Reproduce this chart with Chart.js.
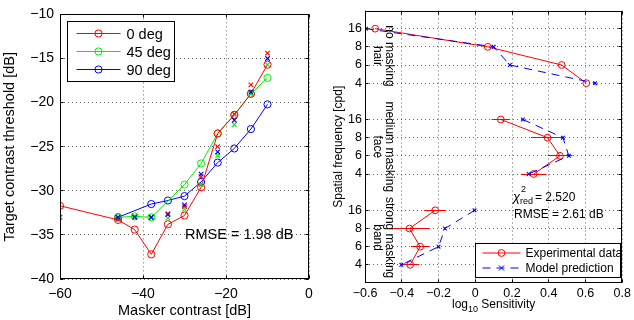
<!DOCTYPE html>
<html>
<head>
<meta charset="utf-8">
<script src="https://cdn.jsdelivr.net/npm/chart.js@4.4.1/dist/chart.umd.min.js"></script>
<style>
  body { margin: 0; background: #fff; width: 634px; height: 320px; overflow: hidden; position: relative; }
  canvas { position: absolute; top: 0; }
  #left { left: 0; }
  #right { left: 320px; }
</style>
</head>
<body>
<canvas id="left" width="320" height="320"></canvas>
<canvas id="right" width="314" height="320"></canvas>
<script>
// ---- left panel data: threshold vs masker contrast ----
const maskerContrast = [-60, -46, -42, -38, -34, -30, -26, -22, -18, -14, -10];
const measured0 = [-31.7, -33.3, -34.4, -37.2, -33.8, -32.8, -29.6, -23.5, -21.4, -19.0, -15.7];
const measured45 = [null, -33.0, -32.9, -33.0, null, -29.3, -26.9, -23.5, -21.4, -19.0, -17.2];
const measured90 = [null, -33.0, null, -31.5, -31.1, -30.6, -29.0, -26.8, -25.2, -23.0, -20.2];
const model0 = [-33.0, -33.2, -32.9, -33.0, -32.6, -31.8, -28.4, -25.0, -21.3, -18.0, -14.4];
const model45 = [null, -33.0, -32.9, -33.0, -33.1, -32.1, -29.3, -26.0, -22.5, -19.0, -15.7];
const model90 = [null, -33.0, -33.0, -33.0, -32.7, -31.6, -28.1, -25.6, -22.0, -18.8, -15.0];
const orientationLabels = ['0 deg', '45 deg', '90 deg'];

// ---- right panel data: log10 sensitivity per spatial frequency ----
const freqLabels = ['16', '8', '6', '4'];
const conditionNames = [['no masking', 'hair'], ['medium masking', 'face'], ['strong masking', 'band']];
const expNone = [-0.545, 0.068, 0.470, 0.604];
const expMedium = [0.139, 0.393, 0.461, 0.318];
const expStrong = [-0.218, -0.358, -0.300, -0.354];
const errNone = [0, 0, 0, 0];
const errMedium = [0.05, 0.09, 0.067, 0.07];
const errStrong = [0.06, 0.11, 0.05, 0.05];
const modelNone = [-0.595, 0.100, 0.188, 0.652];
const modelMedium = [0.259, 0.477, 0.509, 0.291];
const modelStrong = [-0.004, -0.165, -0.200, -0.402];

const FONT = "'Liberation Sans', Arial, Helvetica, sans-serif";
const RED = '#ff0000', GREEN = '#00f000', BLUE = '#0000ff';

function minus(v, digits) {
  if (Math.abs(v) < 1e-9) return '0';
  const s = digits ? Math.abs(v).toFixed(digits) : String(Math.abs(v));
  return (v < 0 ? '\u2212' : '') + s;
}

function pts(xs, ys) {
  return xs.map((x, i) => ({ x: x, y: ys[i] })).filter(p => p.y !== null);
}

// same rounding chart.js uses for 1px grid lines
function align(p) {
  return Math.round(p - 0.5) + 0.5;
}

// draws the axes box and inward tick marks like matlab
const framePlugin = {
  id: 'frame',
  afterDraw(chart) {
    const { ctx, chartArea: a, scales } = chart;
    ctx.save();
    ctx.strokeStyle = '#000';
    ctx.lineWidth = 1;
    const l = Math.round(a.left) + 0.5, r = Math.round(a.right) - 0.5;
    const t = Math.round(a.top) + 0.5, b = Math.round(a.bottom) - 0.5;
    ctx.strokeRect(l, t, r - l, b - t);
    ctx.beginPath();
    scales.x.ticks.forEach(tk => {
      const px = align(scales.x.getPixelForValue(tk.value));
      ctx.moveTo(px, b); ctx.lineTo(px, b - 3);
      ctx.moveTo(px, t); ctx.lineTo(px, t + 3);
    });
    scales.y.ticks.forEach(tk => {
      const py = align(scales.y.getPixelForValue(tk.value));
      ctx.moveTo(l, py); ctx.lineTo(l + 3, py);
      ctx.moveTo(r, py); ctx.lineTo(r - 3, py);
    });
    ctx.stroke();
    ctx.restore();
  }
};

function drawMarker(ctx, style, x, y, r, color) {
  ctx.strokeStyle = color;
  ctx.beginPath();
  if (style === 'circle') {
    ctx.arc(x, y, r, 0, Math.PI * 2);
  } else {
    ctx.moveTo(x - r, y - r); ctx.lineTo(x + r, y + r);
    ctx.moveTo(x - r, y + r); ctx.lineTo(x + r, y - r);
  }
  ctx.stroke();
}

// left panel: legend box + rmse text
const leftDecor = {
  id: 'leftDecor',
  afterDraw(chart) {
    const { ctx, chartArea: a } = chart;
    const colors = [RED, GREEN, BLUE];
    ctx.save();
    const bx = Math.round(a.left) + 7.5, by = Math.round(a.top) + 7.5;
    ctx.fillStyle = '#fff';
    ctx.fillRect(bx, by, 107, 60);
    ctx.strokeStyle = '#000';
    ctx.lineWidth = 1;
    ctx.strokeRect(bx, by, 107, 60);
    ctx.font = '14.5px ' + FONT;
    ctx.textBaseline = 'middle';
    ctx.fillStyle = '#000';
    orientationLabels.forEach((lab, i) => {
      const y = by + 12 + i * 18;
      ctx.strokeStyle = colors[i];
      ctx.beginPath();
      ctx.moveTo(bx + 9, y); ctx.lineTo(bx + 53, y);
      ctx.stroke();
      drawMarker(ctx, 'circle', bx + 31, y, 3.6, colors[i]);
      ctx.fillText(lab, bx + 59, y + 1);
    });
    ctx.fillText('RMSE = 1.98 dB', 185, 235);
    ctx.restore();
  }
};

// right panel: error bars, condition labels, legend, stats, x title
const rightDecor = {
  id: 'rightDecor',
  beforeDatasetsDraw(chart) {
    const { ctx, scales } = chart;
    const groups = [[expNone, errNone], [expMedium, errMedium], [expStrong, errStrong]];
    ctx.save();
    ctx.strokeStyle = RED;
    ctx.lineWidth = 1;
    ctx.beginPath();
    groups.forEach(([vals, errs], g) => {
      vals.forEach((v, i) => {
        if (!errs[i]) return;
        const py = align(scales.y.getPixelForValue(g * 5 + 1 + i));
        ctx.moveTo(scales.x.getPixelForValue(v - errs[i]), py);
        ctx.lineTo(scales.x.getPixelForValue(v + errs[i]), py);
      });
    });
    ctx.stroke();
    ctx.restore();
  },
  afterDraw(chart) {
    const { ctx, chartArea: a, scales } = chart;
    ctx.save();
    ctx.fillStyle = '#000';
    ctx.font = '12px ' + FONT;
    ctx.textAlign = 'center';
    ctx.textBaseline = 'middle';
    conditionNames.forEach((lines, g) => {
      const cy = scales.y.getPixelForValue(g * 5 + 2.5);
      ctx.save();
      ctx.translate(69, cy);
      ctx.rotate(Math.PI / 2);
      ctx.fillText(lines[0], 0, 0);
      ctx.fillText(lines[1], 0, 11.5);
      ctx.restore();
    });

    // stats text
    ctx.textAlign = 'left';
    ctx.textBaseline = 'alphabetic';
    ctx.font = 'italic 13px ' + FONT;
    ctx.fillText('\u03c7', 193, 201);
    ctx.font = '9px ' + FONT;
    ctx.fillText('2', 201, 192);
    ctx.fillText('red', 200, 204);
    ctx.font = '12px ' + FONT;
    ctx.fillText('= 2.520', 215, 201);
    ctx.fillText('RMSE = 2.61 dB', 194, 218);

    // legend
    const bx = 155.5, by = 243.5;
    ctx.fillStyle = '#fff';
    ctx.fillRect(bx, by, 145, 34);
    ctx.strokeStyle = '#000';
    ctx.lineWidth = 1;
    ctx.strokeRect(bx, by, 145, 34);
    ctx.fillStyle = '#000';
    ctx.textBaseline = 'middle';
    let y = by + 9.5;
    ctx.strokeStyle = RED;
    ctx.beginPath(); ctx.moveTo(bx + 7, y); ctx.lineTo(bx + 45, y); ctx.stroke();
    drawMarker(ctx, 'circle', bx + 26, y, 3.4, RED);
    ctx.fillText('Experimental data', bx + 50, y + 1);
    y = by + 24.5;
    ctx.strokeStyle = BLUE;
    ctx.setLineDash([8, 6]);
    ctx.beginPath(); ctx.moveTo(bx + 7, y); ctx.lineTo(bx + 45, y); ctx.stroke();
    ctx.setLineDash([]);
    drawMarker(ctx, 'cross', bx + 26, y, 2.6, BLUE);
    ctx.fillText('Model prediction', bx + 50, y + 1);

    // x title with subscript
    const cx = (a.left + a.right) / 2;
    ctx.textBaseline = 'alphabetic';
    ctx.font = '12px ' + FONT;
    const w1 = ctx.measureText('log').width;
    const w3 = ctx.measureText(' Sensitivity').width;
    ctx.font = '9px ' + FONT;
    const w2 = ctx.measureText('10').width;
    let x = cx - (w1 + w2 + w3) / 2;
    ctx.font = '12px ' + FONT;
    ctx.fillText('log', x, 308);
    ctx.font = '9px ' + FONT;
    ctx.fillText('10', x + w1, 312);
    ctx.font = '12px ' + FONT;
    ctx.fillText(' Sensitivity', x + w1 + w2, 308);
    ctx.restore();
  }
};

const gridStyle = { color: 'rgba(0,0,0,0.6)', drawTicks: false, lineWidth: 1 };
const dotted = { display: false, dash: [1, 3] };

// ---------------- left chart ----------------
function lineSet(xs, ys, color) {
  return {
    data: pts(xs, ys), showLine: true, borderColor: color, borderWidth: 1,
    pointStyle: 'circle', pointRadius: 3.6, pointBorderColor: color, pointBorderWidth: 1,
    pointBackgroundColor: 'rgba(0,0,0,0)'
  };
}
function modelSet(xs, ys, color) {
  return {
    data: pts(xs, ys), showLine: false, pointStyle: 'crossRot', pointRadius: 3.2,
    pointBorderColor: color, pointBorderWidth: 1.1, borderColor: color
  };
}

new Chart(document.getElementById('left'), {
  type: 'scatter',
  data: {
    datasets: [
      modelSet(maskerContrast, model90, BLUE),
      modelSet(maskerContrast, model45, GREEN),
      modelSet(maskerContrast, model0, RED),
      lineSet(maskerContrast, measured0, RED),
      lineSet(maskerContrast, measured45, GREEN),
      lineSet(maskerContrast, measured90, BLUE)
    ]
  },
  options: {
    responsive: false,
    animation: false,
    layout: { padding: { left: 0, right: 11, top: 9, bottom: 0 } },
    plugins: { legend: { display: false }, tooltip: { enabled: false } },
    scales: {
      x: {
        type: 'linear', min: -60, max: 0,
        ticks: { stepSize: 20, autoSkip: false, maxRotation: 0, color: '#000', padding: 7,
                 font: { size: 14, family: FONT }, callback: v => minus(v) },
        grid: gridStyle, border: dotted,
        title: { display: true, text: 'Masker contrast [dB]', color: '#000',
                 font: { size: 14.5, family: FONT }, padding: { top: 2, bottom: 0 } },
        afterFit: s => { s.height = 41; }
      },
      y: {
        type: 'linear', min: -40, max: -10,
        ticks: { stepSize: 5, autoSkip: false, color: '#000', padding: 6,
                 font: { size: 14, family: FONT }, callback: v => minus(v) },
        grid: gridStyle, border: dotted,
        title: { display: true, text: 'Target contrast threshold [dB]', color: '#000',
                 font: { size: 14.5, family: FONT }, padding: { top: 1, bottom: 0 } },
        afterFit: s => { s.width = 60; }
      }
    }
  },
  plugins: [framePlugin, leftDecor]
});

// ---------------- right chart ----------------
const freqPositions = [];
[0, 1, 2].forEach(g => freqLabels.forEach((f, i) => freqPositions.push(g * 5 + 1 + i)));

function groupPts(vals, g) {
  return vals.map((v, i) => ({ x: v, y: g * 5 + 1 + i }));
}
const rightSets = [];
[modelNone, modelMedium, modelStrong].forEach((vals, g) => rightSets.push({
  data: groupPts(vals, g), showLine: true, borderColor: BLUE, borderWidth: 1, borderDash: [8, 6],
  pointStyle: 'crossRot', pointRadius: 2.6, pointBorderColor: BLUE, pointBorderWidth: 1.1
}));
[expNone, expMedium, expStrong].forEach((vals, g) => rightSets.push({
  data: groupPts(vals, g), showLine: true, borderColor: RED, borderWidth: 1,
  pointStyle: 'circle', pointRadius: 3.4, pointBorderColor: RED, pointBorderWidth: 1,
  pointBackgroundColor: 'rgba(0,0,0,0)'
}));

new Chart(document.getElementById('right'), {
  type: 'scatter',
  data: { datasets: rightSets },
  options: {
    responsive: false,
    animation: false,
    layout: { padding: { left: 0, right: 8, top: 8, bottom: 0 } },
    plugins: { legend: { display: false }, tooltip: { enabled: false } },
    scales: {
      x: {
        type: 'linear', min: -0.6, max: 0.8,
        ticks: { stepSize: 0.2, autoSkip: false, maxRotation: 0, color: '#000', padding: 3,
                 font: { size: 12.5, family: FONT }, callback: v => minus(v, 1) },
        grid: gridStyle, border: dotted,
        title: { display: false },
        afterFit: s => { s.height = 37; }
      },
      y: {
        type: 'linear', min: 0, max: 15, reverse: true,
        afterBuildTicks: s => { s.ticks = freqPositions.map(v => ({ value: v })); },
        ticks: { autoSkip: false, color: '#000', padding: 3, font: { size: 12.5, family: FONT },
                 callback: v => freqLabels[(v - 1) % 5] },
        grid: gridStyle, border: dotted,
        title: { display: true, text: 'Spatial frequency [cpd]', color: '#000',
                 font: { size: 12, family: FONT }, padding: { top: 11, bottom: 0 } },
        afterFit: s => { s.width = 45; }
      }
    }
  },
  plugins: [framePlugin, rightDecor]
});
</script>
</body>
</html>
